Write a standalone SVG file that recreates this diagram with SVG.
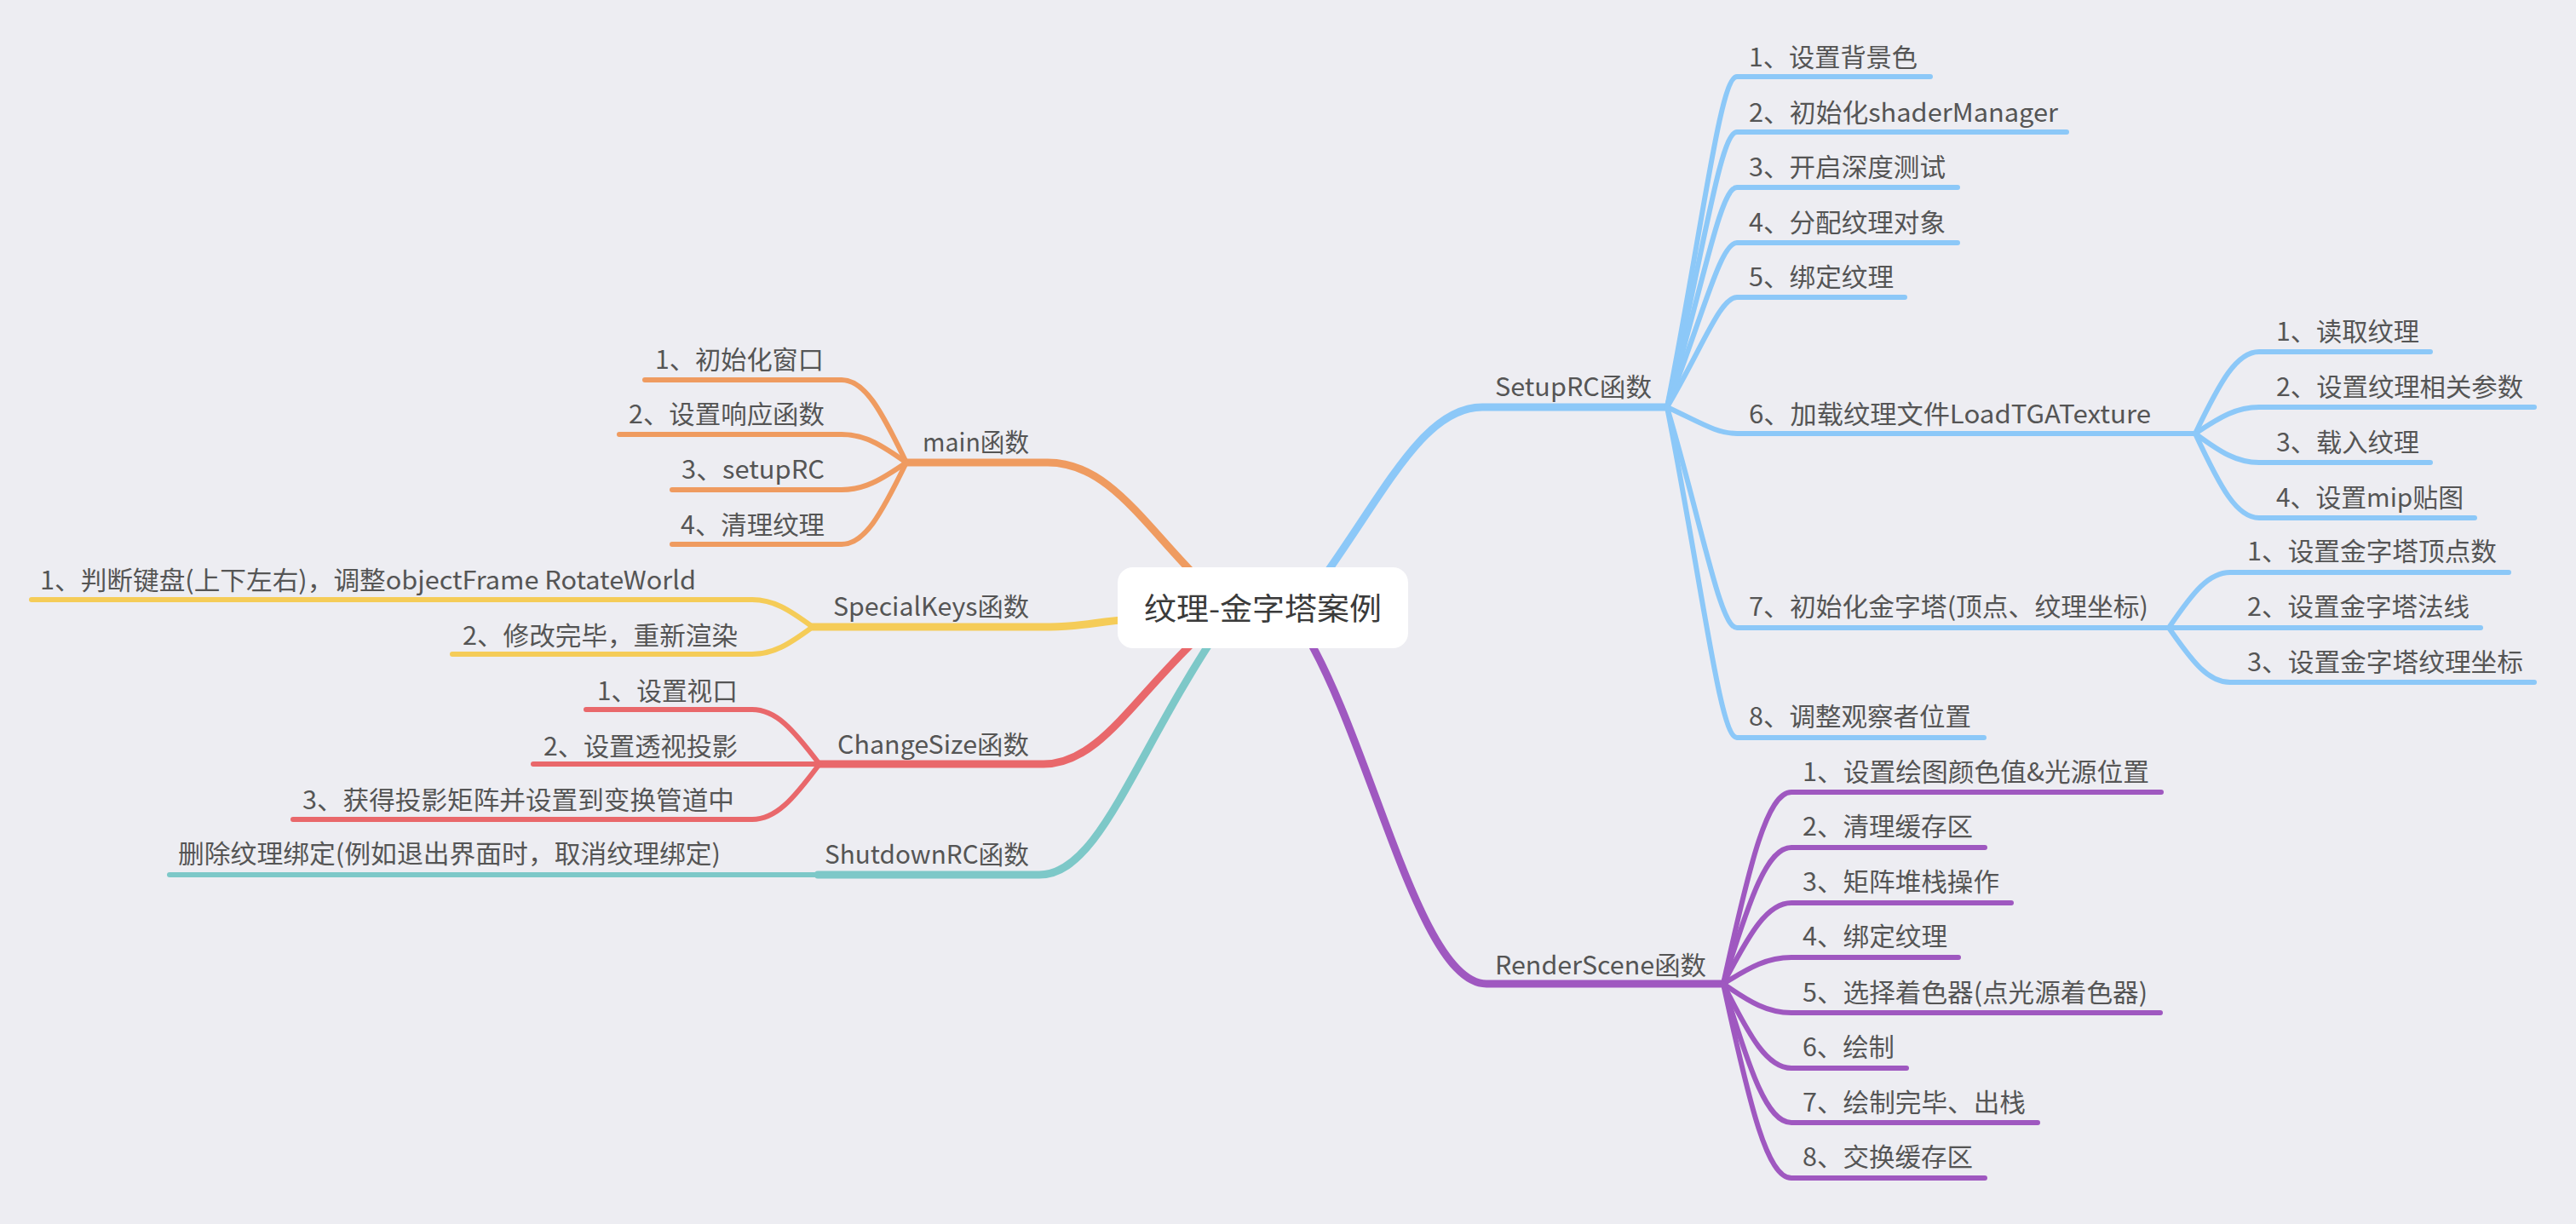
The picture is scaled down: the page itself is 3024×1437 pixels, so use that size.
<svg xmlns="http://www.w3.org/2000/svg" width="3024" height="1437" viewBox="0 0 3024 1437">
<style>
.bg{fill:#EDEDF2}
.c{fill:none;stroke-linecap:round;stroke-linejoin:round}
.b{stroke-width:9}
.s{stroke-width:6}
.or{stroke:#EF9B60}
.ye{stroke:#F5CC58}
.rd{stroke:#E9686B}
.te{stroke:#7DC8C8}
.bl{stroke:#8CC8F8}
.pu{stroke:#9F58C0}
text{font-family:"Noto Sans CJK SC","Noto Sans",sans-serif;font-size:30px;fill:#555555}
.root{font-size:36px;fill:#3a3a3a}
</style>
<rect class="bg" x="0" y="0" width="3024" height="1437"/>
<g id="connectors">
<!-- main -->
<path class="c b or" d="M1410 683 C1340 612 1300 543 1230 543 L1064 543"/>
<path class="c s or" d="M1064 543 C1033.6 480 1014.6 446 988 446 L757 446"/>
<path class="c s or" d="M1064 543 C1033.6 521.5 1014.6 510 988 510 L727 510"/>
<path class="c s or" d="M1064 543 C1033.6 563.8 1014.6 575 988 575 L789 575"/>
<path class="c s or" d="M1064 543 C1033.6 605.4 1014.6 639 988 639 L789 639"/>
<!-- SpecialKeys -->
<path class="c b ye" d="M1330 727 C1290 729 1270 736 1233 736 L954 736"/>
<path class="c s ye" d="M954 736 C925.6 715.2 907.9 704 883 704 L37 704"/>
<path class="c s ye" d="M954 736 C925.6 756.8 907.9 768 883 768 L531 768"/>
<!-- ChangeSize -->
<path class="c b rd" d="M1410 745 C1330 820 1290 897 1225 897 L962 897"/>
<path class="c s rd" d="M962 897 C930.4 855.4 910.7 833 883 833 L688 833"/>
<path class="c s rd" d="M962 897 L626 897"/>
<path class="c s rd" d="M962 897 C930.4 939.3 910.7 962 883 962 L344 962"/>
<!-- ShutdownRC -->
<path class="c b te" d="M1430 740 C1330 890 1290 1027 1220 1027 L960 1027"/>
<path class="c s te" d="M960 1027 L199 1027"/>
<!-- SetupRC -->
<path class="c b bl" d="M1545 690 C1625 580 1670 478 1740 478 L1957 478"/>
<path class="c s bl" d="M1957 478 C1999.6 260.7 2019.3 90 2039 90 L2266 90"/>
<path class="c s bl" d="M1957 478 C1999.6 297.1 2019.3 155 2039 155 L2426 155"/>
<path class="c s bl" d="M1957 478 C1999.6 333.5 2019.3 220 2039 220 L2298 220"/>
<path class="c s bl" d="M1957 478 C1999.6 369.9 2019.3 285 2039 285 L2298 285"/>
<path class="c s bl" d="M1957 478 C1999.6 405.8 2019.3 349 2039 349 L2236 349"/>
<path class="c s bl" d="M1957 478 C1995 495.4 2015 509 2039 509 L2577 509"/>
<path class="c s bl" d="M1957 478 C1999.6 623 2019.3 737 2039 737 L2546 737"/>
<path class="c s bl" d="M1957 478 C1999.6 695.3 2019.3 866 2039 866 L2329 866"/>
<path class="c s bl" d="M2577 509 C2607 446.6 2625.8 413 2652 413 L2853 413"/>
<path class="c s bl" d="M2577 509 C2607 488.9 2625.8 478 2652 478 L2975 478"/>
<path class="c s bl" d="M2577 509 C2607 531.1 2625.8 543 2652 543 L2853 543"/>
<path class="c s bl" d="M2577 509 C2607 573.4 2625.8 608 2652 608 L2905 608"/>
<path class="c s bl" d="M2546 737 C2574.8 694.8 2592.8 672 2618 672 L2945 672"/>
<path class="c s bl" d="M2546 737 L2912 737"/>
<path class="c s bl" d="M2546 737 C2574.8 778.6 2592.8 801 2618 801 L2975 801"/>
<!-- RenderScene -->
<path class="c b pu" d="M1530 740 C1610 870 1665 1155 1745 1155 L2023 1155"/>
<path class="c s pu" d="M2023 1155 C2055 1008.8 2075 930 2103 930 L2537 930"/>
<path class="c s pu" d="M2023 1155 C2055 1051 2075 995 2103 995 L2330 995"/>
<path class="c s pu" d="M2023 1155 C2055 1093.3 2075 1060 2103 1060 L2361 1060"/>
<path class="c s pu" d="M2023 1155 C2055 1134.9 2075 1124 2103 1124 L2299 1124"/>
<path class="c s pu" d="M2023 1155 C2055 1177.1 2075 1189 2103 1189 L2536 1189"/>
<path class="c s pu" d="M2023 1155 C2055 1219.4 2075 1254 2103 1254 L2238 1254"/>
<path class="c s pu" d="M2023 1155 C2055 1261 2075 1318 2103 1318 L2392 1318"/>
<path class="c s pu" d="M2023 1155 C2055 1303.2 2075 1383 2103 1383 L2330 1383"/>
</g>
<g id="root">
<rect x="1312" y="666" width="341" height="95" rx="18" fill="#FFFFFF"/>
<text class="root" x="1343" y="728" textLength="279" lengthAdjust="spacingAndGlyphs">纹理-金字塔案例</text>
</g>
<g id="main">
<text x="1083" y="530" textLength="125" lengthAdjust="spacingAndGlyphs">main函数</text>
</g>
<g id="main-1"><text x="769" y="433" textLength="198" lengthAdjust="spacingAndGlyphs">1、初始化窗口</text></g>
<g id="main-2"><text x="738" y="497" textLength="230" lengthAdjust="spacingAndGlyphs">2、设置响应函数</text></g>
<g id="main-3"><text x="800" y="562" textLength="168" lengthAdjust="spacingAndGlyphs">3、setupRC</text></g>
<g id="main-4"><text x="799" y="627" textLength="169" lengthAdjust="spacingAndGlyphs">4、清理纹理</text></g>
<g id="specialkeys"><text x="978" y="723" textLength="230" lengthAdjust="spacingAndGlyphs">SpecialKeys函数</text></g>
<g id="specialkeys-1"><text x="47" y="692" textLength="770" lengthAdjust="spacingAndGlyphs">1、判断键盘(上下左右)，调整objectFrame RotateWorld</text></g>
<g id="specialkeys-2"><text x="543" y="757" textLength="323" lengthAdjust="spacingAndGlyphs">2、修改完毕，重新渲染</text></g>
<g id="changesize"><text x="983" y="885" textLength="225" lengthAdjust="spacingAndGlyphs">ChangeSize函数</text></g>
<g id="changesize-1"><text x="701" y="822" textLength="165" lengthAdjust="spacingAndGlyphs">1、设置视口</text></g>
<g id="changesize-2"><text x="638" y="887" textLength="228" lengthAdjust="spacingAndGlyphs">2、设置透视投影</text></g>
<g id="changesize-3"><text x="355" y="950" textLength="507" lengthAdjust="spacingAndGlyphs">3、获得投影矩阵并设置到变换管道中</text></g>
<g id="shutdownrc"><text x="968" y="1014" textLength="240" lengthAdjust="spacingAndGlyphs">ShutdownRC函数</text></g>
<g id="shutdownrc-1"><text x="209" y="1013" textLength="637" lengthAdjust="spacingAndGlyphs">删除纹理绑定(例如退出界面时，取消纹理绑定)</text></g>
<g id="setuprc"><text x="1755" y="465" textLength="184" lengthAdjust="spacingAndGlyphs">SetupRC函数</text></g>
<g id="setuprc-1"><text x="2053" y="78" textLength="198" lengthAdjust="spacingAndGlyphs">1、设置背景色</text></g>
<g id="setuprc-2"><text x="2053" y="143" textLength="363" lengthAdjust="spacingAndGlyphs">2、初始化shaderManager</text></g>
<g id="setuprc-3"><text x="2053" y="207" textLength="231" lengthAdjust="spacingAndGlyphs">3、开启深度测试</text></g>
<g id="setuprc-4"><text x="2053" y="272" textLength="231" lengthAdjust="spacingAndGlyphs">4、分配纹理对象</text></g>
<g id="setuprc-5"><text x="2053" y="336" textLength="170" lengthAdjust="spacingAndGlyphs">5、绑定纹理</text></g>
<g id="setuprc-6"><text x="2053" y="497" textLength="472" lengthAdjust="spacingAndGlyphs">6、加载纹理文件LoadTGATexture</text></g>
<g id="setuprc-6-1"><text x="2672" y="400" textLength="168" lengthAdjust="spacingAndGlyphs">1、读取纹理</text></g>
<g id="setuprc-6-2"><text x="2672" y="465" textLength="290" lengthAdjust="spacingAndGlyphs">2、设置纹理相关参数</text></g>
<g id="setuprc-6-3"><text x="2672" y="530" textLength="168" lengthAdjust="spacingAndGlyphs">3、载入纹理</text></g>
<g id="setuprc-6-4"><text x="2672" y="595" textLength="220" lengthAdjust="spacingAndGlyphs">4、设置mip贴图</text></g>
<g id="setuprc-7"><text x="2053" y="723" textLength="469" lengthAdjust="spacingAndGlyphs">7、初始化金字塔(顶点、纹理坐标)</text></g>
<g id="setuprc-7-1"><text x="2638" y="658" textLength="293" lengthAdjust="spacingAndGlyphs">1、设置金字塔顶点数</text></g>
<g id="setuprc-7-2"><text x="2638" y="723" textLength="261" lengthAdjust="spacingAndGlyphs">2、设置金字塔法线</text></g>
<g id="setuprc-7-3"><text x="2638" y="788" textLength="324" lengthAdjust="spacingAndGlyphs">3、设置金字塔纹理坐标</text></g>
<g id="setuprc-8"><text x="2053" y="852" textLength="261" lengthAdjust="spacingAndGlyphs">8、调整观察者位置</text></g>
<g id="renderscene"><text x="1755" y="1144" textLength="248" lengthAdjust="spacingAndGlyphs">RenderScene函数</text></g>
<g id="renderscene-1"><text x="2116" y="917" textLength="407" lengthAdjust="spacingAndGlyphs">1、设置绘图颜色值&amp;光源位置</text></g>
<g id="renderscene-2"><text x="2116" y="981" textLength="200" lengthAdjust="spacingAndGlyphs">2、清理缓存区</text></g>
<g id="renderscene-3"><text x="2116" y="1046" textLength="231" lengthAdjust="spacingAndGlyphs">3、矩阵堆栈操作</text></g>
<g id="renderscene-4"><text x="2116" y="1110" textLength="170" lengthAdjust="spacingAndGlyphs">4、绑定纹理</text></g>
<g id="renderscene-5"><text x="2116" y="1176" textLength="405" lengthAdjust="spacingAndGlyphs">5、选择着色器(点光源着色器)</text></g>
<g id="renderscene-6"><text x="2116" y="1240" textLength="108" lengthAdjust="spacingAndGlyphs">6、绘制</text></g>
<g id="renderscene-7"><text x="2116" y="1305" textLength="262" lengthAdjust="spacingAndGlyphs">7、绘制完毕、出栈</text></g>
<g id="renderscene-8"><text x="2116" y="1369" textLength="200" lengthAdjust="spacingAndGlyphs">8、交换缓存区</text></g>
</svg>
